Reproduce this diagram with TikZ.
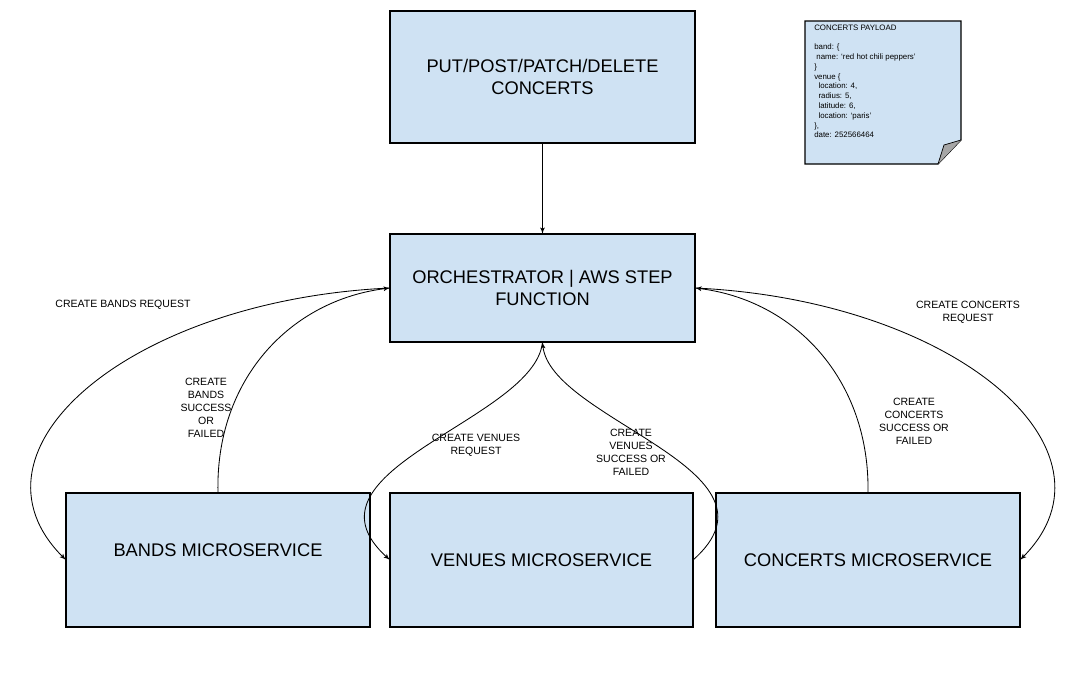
\documentclass[tikz,border=0pt]{standalone}
\usepackage{fontspec}
\setmainfont{Liberation Sans}
\usetikzlibrary{arrows}
\definecolor{boxblue}{HTML}{CFE2F3}
\tikzstyle{service}=[draw, line width=0.8pt, fill=boxblue, align=center,
  inner sep=0pt, outer sep=0pt, font=\fontsize{13}{15}\selectfont]
\tikzstyle{bigservice} = [service, minimum width=7.625cm, minimum height=3.3cm]
\tikzstyle{smallservice} = [service, minimum width=7.6cm, minimum height=3.35cm]
\tikzstyle{msg}=[align=center, inner sep=0pt, font=\fontsize{7.5}{9.2}\selectfont]
\tikzstyle{line} = [draw, line width=0.6pt, color=black, -latex']
\newcommand{\msnode}[3]{node (#1) [#2] {#3}}

\begin{document}
\begin{tikzpicture}[x=0.025cm,y=-0.025cm]
  \useasboundingbox (0,0) rectangle (1086,697);

  % Draw diagram elements
  \path (542.5,77) \msnode{crud}{bigservice}{PUT/POST/PATCH/DELETE\\CONCERTS};
  \path (542.5,288) \msnode{orch}{bigservice,minimum height=2.7cm}{ORCHESTRATOR | AWS STEP\\FUNCTION};
  \path (218,560) \msnode{bands}{smallservice}{\raisebox{14pt}{BANDS MICROSERVICE}};
  \path (541.5,560) \msnode{venues}{smallservice,minimum width=7.575cm}{VENUES MICROSERVICE};
  \path (868,560) \msnode{concerts}{smallservice}{CONCERTS MICROSERVICE};

  % payload note
  \draw[line width=0.8pt, fill=boxblue] (805,21) -- (961,21) -- (961,140)
    -- (938,164) -- (805,164) -- cycle;
  \fill[gray!70] (938,164) -- (961,140) -- (944,145) -- cycle;
  \draw[line width=0.5pt] (938,164) -- (944,145) -- (961,140);
  \node (payload) [anchor=north west, align=left, inner sep=0pt,
    font=\fontsize{5.6}{6.95}\selectfont] at (814,24.5)
    {CONCERTS PAYLOAD\\[6.95pt]
     band: \{\\
     \hspace*{1.5pt}name: `red hot chili peppers'\\
     \}\\
     venue \{\\
     \hspace*{3pt}location: 4,\\
     \hspace*{3pt}radius: 5,\\
     \hspace*{3pt}latitude: 6,\\
     \hspace*{3pt}location: `paris'\\
     \},\\
     date: 252566464};

  % labels
  \node (lbrq) [msg] at (123,305) {CREATE BANDS REQUEST};
  \node (lbok) [msg] at (206,408) {CREATE\\BANDS\\SUCCESS\\OR\\FAILED};
  \node (lvrq) [msg] at (476,445) {CREATE VENUES\\REQUEST};
  \node (lvok) [msg] at (631,452) {CREATE\\VENUES\\SUCCESS OR\\FAILED};
  \node (lcok) [msg] at (914,421) {CREATE\\CONCERTS\\SUCCESS OR\\FAILED};
  \node (lcrq) [msg] at (968,312) {CREATE CONCERTS\\REQUEST};

  % connectors
  \path [line] (crud.south) -- (orch.north);
  \path [line] (orch.west) .. controls (130,300) and (-45,450) .. (bands.west);
  \path [line] (bands.north) .. controls (215,380) and (290,300) .. (orch.west);
  \path [line] (orch.south) .. controls (535,420) and (290,470) .. (venues.west);
  \path [line] (venues.east) .. controls (795,470) and (550,420) .. (orch.south);
  \path [line] (concerts.north) .. controls (870,380) and (795,300) .. (orch.east);
  \path [line] (orch.east) .. controls (955,300) and (1130,450) .. (concerts.east);
\end{tikzpicture}
\end{document}
